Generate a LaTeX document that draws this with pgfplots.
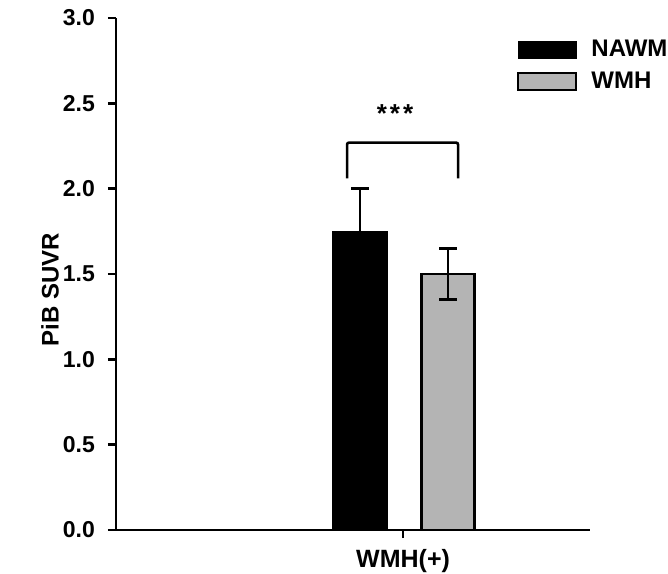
\documentclass[border=0pt]{standalone}
\usepackage{fontspec}
\setmainfont{Liberation Sans}
\usepackage{pgfplots}
\pgfplotsset{compat=1.18}
\definecolor{wmhgray}{HTML}{B4B4B4}

\begin{document}
\begin{tikzpicture}
\begin{axis}[
  scale only axis,
  width=237pt, height=256pt,
  xmin=0, xmax=4.74,
  ymin=0, ymax=3,
  axis lines=left,
  axis line style={line width=1.2pt, -},
  xtick={2.87}, xticklabels={WMH(+)},
  ytick={0,0.5,...,3},
  yticklabel style={xshift=-3pt, /pgf/number format/fixed,
    /pgf/number format/fixed zerofill, /pgf/number format/precision=1},
  /pgf/number format/assume math mode=true,
  tick align=outside,
  major tick length=4pt,
  tick style={line width=1.2pt, black},
  tick label style={font=\bfseries\fontsize{11.5}{13}\selectfont},
  xticklabel style={font=\bfseries\fontsize{12.5}{14}\selectfont, yshift=-2pt},
  ylabel={PiB SUVR},
  ylabel style={font=\bfseries\fontsize{12}{14}\selectfont,
                at={(axis description cs:-0.139,0.47)}, anchor=center},
  legend style={draw=none, fill=none, font=\bfseries\fontsize{12}{13}\selectfont,
                at={(axis description cs:0.845,0.965)}, anchor=north west,
                row sep=2pt, column sep=5pt, inner sep=0pt},
  legend cell align=left,
  legend image code/.code={\draw[#1] (0pt,-4.2pt) rectangle (29pt,4.2pt);},
  clip=false,
]
\addplot[ybar, bar width=0.55, bar shift=0pt, fill=black, draw=black,
  error bars/.cd, y dir=both, y explicit,
  error bar style={line width=1.2pt, black},
  error mark options={rotate=90, mark size=4.3pt, line width=1.2pt, black}]
  coordinates {(2.44,1.75) +- (0,0.25)};
\addplot[ybar, bar width=0.53, bar shift=0pt, fill=wmhgray, draw=black, line width=1.2pt,
  error bars/.cd, y dir=both, y explicit,
  error bar style={line width=1.2pt, black},
  error mark options={rotate=90, mark size=4.3pt, line width=1.2pt, black}]
  coordinates {(3.32,1.50) +- (0,0.15)};
\legend{NAWM, WMH}
\draw[line width=1.3pt, black, rounded corners=1pt]
  (axis cs:2.31,2.06) -- (axis cs:2.31,2.27) -- (axis cs:3.42,2.27) -- (axis cs:3.42,2.06);
\node[font=\bfseries\fontsize{13}{14}\selectfont, inner sep=0pt] at (axis cs:2.79,2.44) {*\kern1.5pt*\kern1.5pt*};
\end{axis}
\pgfresetboundingbox
\useasboundingbox (-58pt,-21.5pt) rectangle ++(334pt,286.5pt);
\end{tikzpicture}
\end{document}
